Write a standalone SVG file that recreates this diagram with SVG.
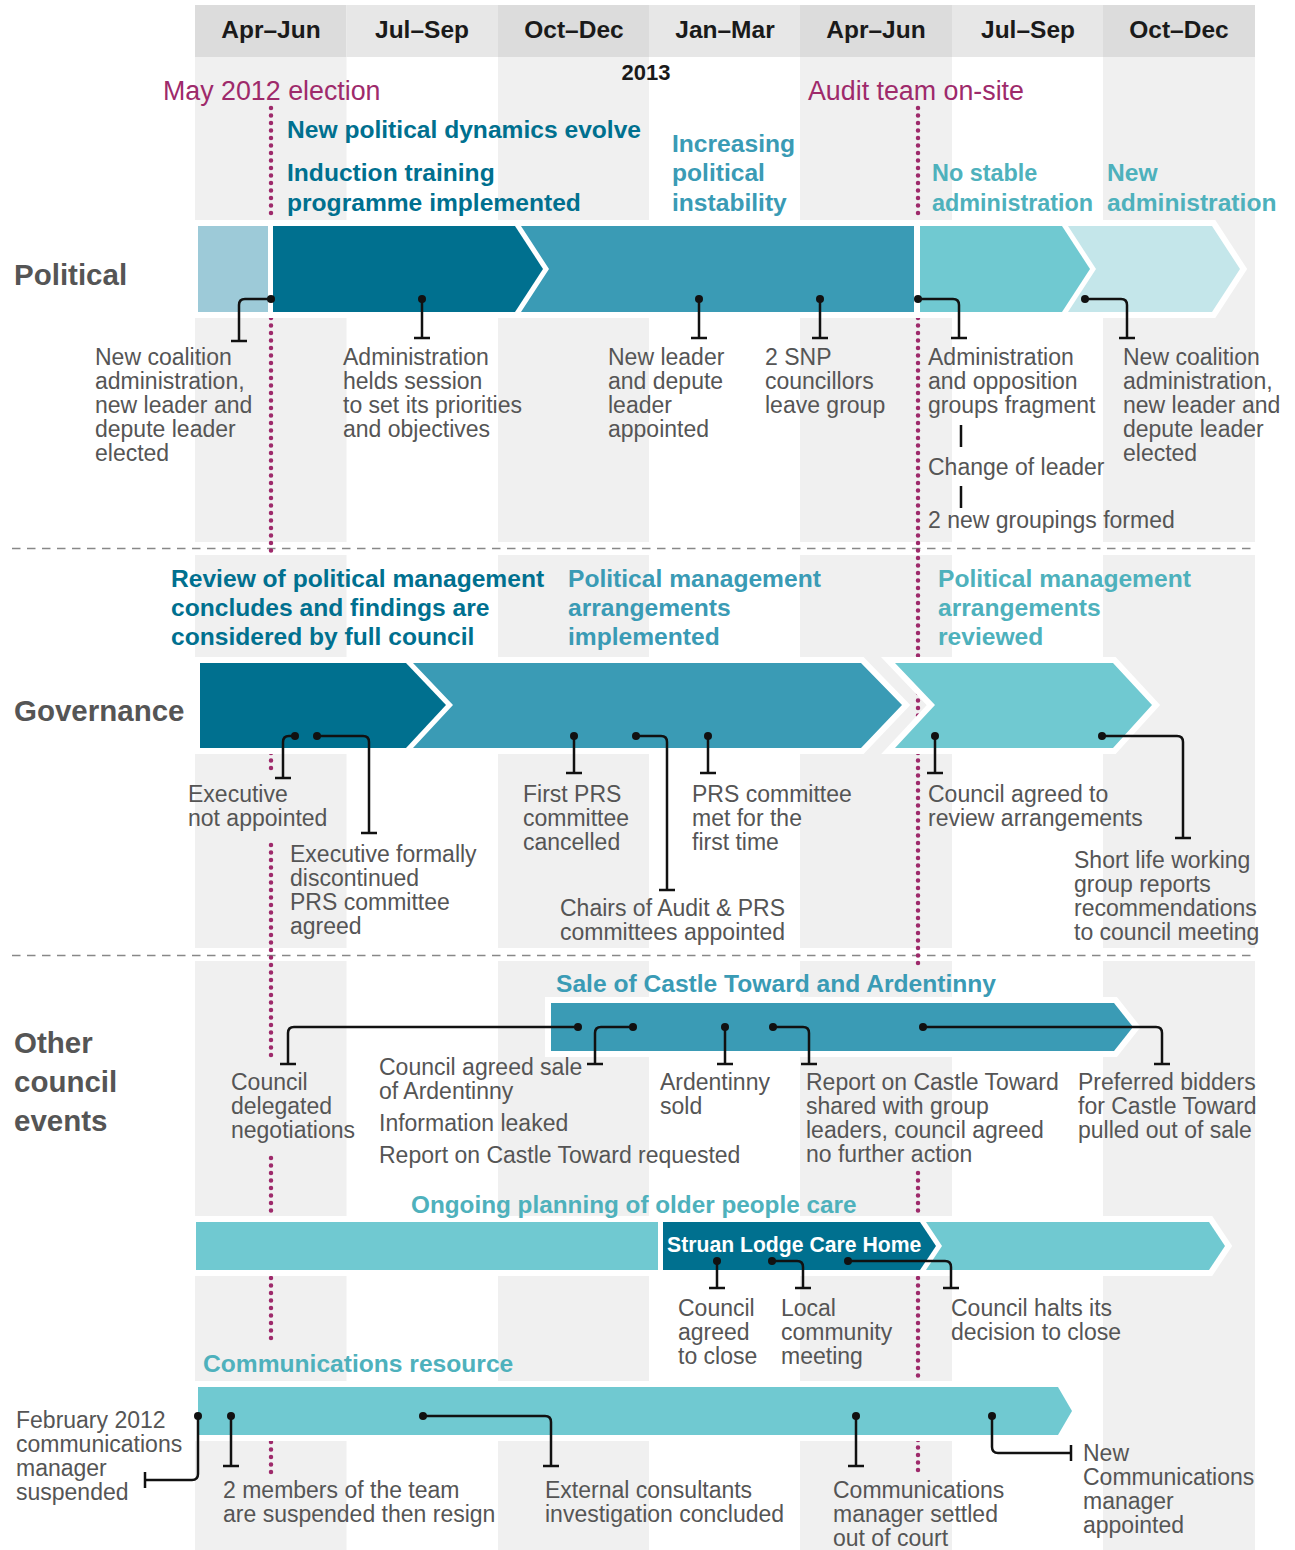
<svg xmlns="http://www.w3.org/2000/svg" width="1295" height="1550" viewBox="0 0 1295 1550">
<style>
text{font-family:"Liberation Sans",Arial,sans-serif}
.hdr{font-size:24.5px;font-weight:bold;fill:#1a1a1a;text-anchor:middle}
.row{font-size:29.5px;font-weight:bold;fill:#555}
.ev{font-size:26.8px;fill:#9e2a6b}
.h1{font-size:24.6px;font-weight:bold;fill:#00708f}
.h2{font-size:24.6px;font-weight:bold;fill:#3a9bb5}
.h3{font-size:24.6px;font-weight:bold;fill:#4eb1bc}
.t{font-size:23px;fill:#555}
.stripe{fill:#f0f0f0}
.halo{fill:#fff;stroke:#fff;stroke-width:12;stroke-linejoin:miter}
.dk{fill:#00708f}.md{fill:#3a9bb5}.lt{fill:#70c9d1}.vl{fill:#c4e6ea}.pl{fill:#9dcad8}
.conn{fill:none;stroke:#111;stroke-width:2.5}
.dot{fill:#111}
.dotted{stroke:#9e2a6b;stroke-width:4.5;stroke-linecap:round;stroke-dasharray:0 7.5;fill:none}
.sep{stroke:#888;stroke-width:1.5;stroke-dasharray:8.5 6.5}
</style>
<rect width="1295" height="1550" fill="#fff"/>
<g id="background">
<rect class="stripe" x="195" y="57" width="151.5" height="1493"/>
<rect class="stripe" x="498" y="57" width="151" height="1493"/>
<rect class="stripe" x="800" y="57" width="152" height="1493"/>
<rect class="stripe" x="1103" y="57" width="152" height="1493"/>
<rect x="195" y="542" width="1060" height="13" fill="#fff"/>
<rect x="195" y="948" width="1060" height="13" fill="#fff"/>
<line class="sep" x1="12" y1="548.5" x2="1255" y2="548.5"/>
<line class="sep" x1="12" y1="955.5" x2="1255" y2="955.5"/>
</g>
<g id="header">
<rect x="195" y="5" width="151.5" height="52" fill="#dcdcdc"/>
<rect x="346.5" y="5" width="151.5" height="52" fill="#e7e7e7"/>
<rect x="498" y="5" width="151" height="52" fill="#dcdcdc"/>
<rect x="649" y="5" width="151" height="52" fill="#e7e7e7"/>
<rect x="800" y="5" width="152" height="52" fill="#dcdcdc"/>
<rect x="952" y="5" width="151" height="52" fill="#e7e7e7"/>
<rect x="1103" y="5" width="152" height="52" fill="#dcdcdc"/>
<text class="hdr" x="271" y="38">Apr–Jun</text>
<text class="hdr" x="422" y="38">Jul–Sep</text>
<text class="hdr" x="574" y="38">Oct–Dec</text>
<text class="hdr" x="725" y="38">Jan–Mar</text>
<text class="hdr" x="876" y="38">Apr–Jun</text>
<text class="hdr" x="1028" y="38">Jul–Sep</text>
<text class="hdr" x="1179" y="38">Oct–Dec</text>
<text class="hdr" x="646" y="80" style="font-size:22px">2013</text>
</g>
<g id="markers">
<text class="ev" x="163" y="100">May 2012 election</text>
<text class="ev" x="808" y="100">Audit team on-site</text>
<path class="dotted" d="M271,108V218M271,318V553M271,753V770M271,845V1057M271,1158V1217M271,1278V1345M271,1442V1473"/>
<path class="dotted" d="M918,108V218M918,318V657M918,693V718M918,753V968M918,1173V1217M918,1278V1382M918,1440V1473"/>
</g>
<g id="row-labels">
<text class="row" x="14" y="285">Political</text>
<text class="row" x="14" y="721">Governance</text>
<text class="row" x="14" y="1053">Other</text>
<text class="row" x="14" y="1092">council</text>
<text class="row" x="14" y="1131">events</text>
</g>
<g id="political-bar">
<polygon class="halo" points="198,226 1212,226 1240,269 1212,312 198,312"/>
<polygon class="pl" points="198,226 268,226 268,312 198,312"/>
<polygon class="dk" points="273,226 515,226 543,269 515,312 273,312"/>
<polygon class="md" points="521,226 914,226 914,312 521,312 549,269"/>
<polygon class="lt" points="920,226 1062,226 1090,269 1062,312 920,312"/>
<polygon class="vl" points="1068,226 1212,226 1240,269 1212,312 1068,312 1096,269"/>
</g>
<g id="political-headlines">
<text class="h1" x="287" y="138">New political dynamics evolve</text>
<text class="h1" x="287" y="181">Induction training</text>
<text class="h1" x="287" y="211">programme implemented</text>
<text class="h2" x="672" y="152">Increasing</text>
<text class="h2" x="672" y="181">political</text>
<text class="h2" x="672" y="211">instability</text>
<text class="h3" x="932" y="181" style="font-size:23.4px">No stable</text>
<text class="h3" x="932" y="211" style="font-size:23.4px">administration</text>
<text class="h3" x="1107" y="181">New</text>
<text class="h3" x="1107" y="211">administration</text>
</g>
<g id="p1"><text class="t" x="95" y="365">New coalition</text><text class="t" x="95" y="389">administration,</text><text class="t" x="95" y="413">new leader and</text><text class="t" x="95" y="437">depute leader</text><text class="t" x="95" y="461">elected</text></g>
<g id="p2"><text class="t" x="343" y="365">Administration</text><text class="t" x="343" y="389">helds session</text><text class="t" x="343" y="413">to set its priorities</text><text class="t" x="343" y="437">and objectives</text></g>
<g id="p3"><text class="t" x="608" y="365">New leader</text><text class="t" x="608" y="389">and depute</text><text class="t" x="608" y="413">leader</text><text class="t" x="608" y="437">appointed</text></g>
<g id="p4"><text class="t" x="765" y="365">2 SNP</text><text class="t" x="765" y="389">councillors</text><text class="t" x="765" y="413">leave group</text></g>
<g id="p5"><text class="t" x="928" y="365">Administration</text><text class="t" x="928" y="389">and opposition</text><text class="t" x="928" y="413">groups fragment</text><text class="t" x="928" y="475">Change of leader</text><text class="t" x="928" y="528">2 new groupings formed</text></g>
<g id="p6"><text class="t" x="1123" y="365">New coalition</text><text class="t" x="1123" y="389">administration,</text><text class="t" x="1123" y="413">new leader and</text><text class="t" x="1123" y="437">depute leader</text><text class="t" x="1123" y="461">elected</text></g>
<g id="governance-bar">
<polygon class="halo" points="200,663 861,663 902,705 861,748 200,748"/>
<polygon class="halo" points="895,663 1113,663 1152,705 1113,748 895,748 935,705"/>
<polygon class="dk" points="200,663 406,663 446,705 406,748 200,748"/>
<polygon class="md" points="413,663 861,663 902,705 861,748 413,748 453,705"/>
<polygon class="lt" points="895,663 1113,663 1152,705 1113,748 895,748 935,705"/>
</g>
<g id="governance-headlines">
<text class="h1" x="171" y="587">Review of political management</text>
<text class="h1" x="171" y="616">concludes and findings are</text>
<text class="h1" x="171" y="645">considered by full council</text>
<text class="h2" x="568" y="587">Political management</text>
<text class="h2" x="568" y="616">arrangements</text>
<text class="h2" x="568" y="645">implemented</text>
<text class="h3" x="938" y="587">Political management</text>
<text class="h3" x="938" y="616">arrangements</text>
<text class="h3" x="938" y="645">reviewed</text>
</g>
<g id="g1"><text class="t" x="188" y="802">Executive</text><text class="t" x="188" y="826">not appointed</text></g>
<g id="g2"><text class="t" x="290" y="862">Executive formally</text><text class="t" x="290" y="886">discontinued</text><text class="t" x="290" y="910">PRS committee</text><text class="t" x="290" y="934">agreed</text></g>
<g id="g3"><text class="t" x="523" y="802">First PRS</text><text class="t" x="523" y="826">committee</text><text class="t" x="523" y="850">cancelled</text></g>
<g id="g4"><text class="t" x="560" y="916">Chairs of Audit &amp; PRS</text><text class="t" x="560" y="940">committees appointed</text></g>
<g id="g5"><text class="t" x="692" y="802">PRS committee</text><text class="t" x="692" y="826">met for the</text><text class="t" x="692" y="850">first time</text></g>
<g id="g6"><text class="t" x="928" y="802">Council agreed to</text><text class="t" x="928" y="826">review arrangements</text></g>
<g id="g7"><text class="t" x="1074" y="868">Short life working</text><text class="t" x="1074" y="892">group reports</text><text class="t" x="1074" y="916">recommendations</text><text class="t" x="1074" y="940">to council meeting</text></g>
<g id="sale-bar">
<polygon class="halo" points="551,1003 1114,1003 1133,1027 1114,1051 551,1051"/>
<polygon class="md" points="551,1003 1114,1003 1133,1027 1114,1051 551,1051"/>
<text class="h2" x="556" y="992">Sale of Castle Toward and Ardentinny</text>
</g>
<g id="o1"><text class="t" x="231" y="1090">Council</text><text class="t" x="231" y="1114">delegated</text><text class="t" x="231" y="1138">negotiations</text></g>
<g id="o2"><text class="t" x="379" y="1075">Council agreed sale</text><text class="t" x="379" y="1099">of Ardentinny</text><text class="t" x="379" y="1131">Information leaked</text><text class="t" x="379" y="1163">Report on Castle Toward requested</text></g>
<g id="o3"><text class="t" x="660" y="1090">Ardentinny</text><text class="t" x="660" y="1114">sold</text></g>
<g id="o4"><text class="t" x="806" y="1090">Report on Castle Toward</text><text class="t" x="806" y="1114">shared with group</text><text class="t" x="806" y="1138">leaders, council agreed</text><text class="t" x="806" y="1162">no further action</text></g>
<g id="o5"><text class="t" x="1078" y="1090">Preferred bidders</text><text class="t" x="1078" y="1114">for Castle Toward</text><text class="t" x="1078" y="1138">pulled out of sale</text></g>
<g id="care-bar">
<polygon class="halo" points="196,1222 1209,1222 1225,1246 1209,1270 196,1270"/>
<polygon class="lt" points="196,1222 1209,1222 1225,1246 1209,1270 196,1270"/>
<polygon class="halo" points="663,1222 920,1222 936,1246 920,1270 663,1270" style="stroke-width:10"/>
<polygon class="dk" points="663,1222 920,1222 936,1246 920,1270 663,1270"/>
<text x="667" y="1252" style="font-size:21.2px;font-weight:bold;fill:#fff">Struan Lodge Care Home</text>
<text class="h3" x="411" y="1213" style="font-size:24.3px">Ongoing planning of older people care</text>
</g>
<g id="c1"><text class="t" x="678" y="1316">Council</text><text class="t" x="678" y="1340">agreed</text><text class="t" x="678" y="1364">to close</text></g>
<g id="c2"><text class="t" x="781" y="1316">Local</text><text class="t" x="781" y="1340">community</text><text class="t" x="781" y="1364">meeting</text></g>
<g id="c3"><text class="t" x="951" y="1316">Council halts its</text><text class="t" x="951" y="1340">decision to close</text></g>
<g id="comms-bar">
<polygon class="halo" points="198,1387 1058,1387 1072,1411 1058,1435 198,1435"/>
<polygon class="lt" points="198,1387 1058,1387 1072,1411 1058,1435 198,1435"/>
<text class="h3" x="203" y="1372">Communications resource</text>
</g>
<g id="m1"><text class="t" x="16" y="1428">February 2012</text><text class="t" x="16" y="1452">communications</text><text class="t" x="16" y="1476">manager</text><text class="t" x="16" y="1500">suspended</text></g>
<g id="m2"><text class="t" x="223" y="1498">2 members of the team</text><text class="t" x="223" y="1522">are suspended then resign</text></g>
<g id="m3"><text class="t" x="545" y="1498">External consultants</text><text class="t" x="545" y="1522">investigation concluded</text></g>
<g id="m4"><text class="t" x="833" y="1498">Communications</text><text class="t" x="833" y="1522">manager settled</text><text class="t" x="833" y="1546">out of court</text></g>
<g id="m5"><text class="t" x="1083" y="1461">New</text><text class="t" x="1083" y="1485">Communications</text><text class="t" x="1083" y="1509">manager</text><text class="t" x="1083" y="1533">appointed</text></g>
<g id="connectors">
<path class="conn" d="M271,299H245Q239,299 239,305V341M231,341H247"/>
<path class="conn" d="M422,299V338M414,338H430"/>
<path class="conn" d="M699,299V338M691,338H707"/>
<path class="conn" d="M820,299V338M812,338H828"/>
<path class="conn" d="M918,299H953Q959,299 959,305V338M951,338H967"/>
<path class="conn" d="M1085,299H1121Q1127,299 1127,305V338M1119,338H1135"/>
<path class="conn" d="M961,425V447M961,486V508"/>
<path class="conn" d="M295,736H289Q283,736 283,742V778M275,778H291"/>
<path class="conn" d="M317,736H363Q369,736 369,742V833M361,833H377"/>
<path class="conn" d="M574,736V773M566,773H582"/>
<path class="conn" d="M636,736H661Q667,736 667,742V890M659,890H675"/>
<path class="conn" d="M708,736V773M700,773H716"/>
<path class="conn" d="M935,736V773M927,773H943"/>
<path class="conn" d="M1102,736H1177Q1183,736 1183,742V838M1175,838H1191"/>
<path class="conn" d="M578,1027H294Q288,1027 288,1033V1064M280,1064H296"/>
<path class="conn" d="M633,1027H601Q595,1027 595,1033V1064M587,1064H603"/>
<path class="conn" d="M725,1027V1064M717,1064H733"/>
<path class="conn" d="M773,1027H803Q809,1027 809,1033V1064M801,1064H817"/>
<path class="conn" d="M923,1027H1156Q1162,1027 1162,1033V1064M1154,1064H1170"/>
<path class="conn" d="M717,1261V1288M709,1288H725"/>
<path class="conn" d="M772,1261H797Q803,1261 803,1267V1288M795,1288H811"/>
<path class="conn" d="M848,1261H945Q951,1261 951,1267V1288M943,1288H959"/>
<path class="conn" d="M198,1416V1474Q198,1480 192,1480H145M145,1472V1488"/>
<path class="conn" d="M231,1416V1466M223,1466H239"/>
<path class="conn" d="M423,1416H545Q551,1416 551,1422V1466M543,1466H559"/>
<path class="conn" d="M856,1416V1466M848,1466H864"/>
<path class="conn" d="M992,1416V1447Q992,1453 998,1453H1071M1071,1445V1461"/>
<g class="dot">
<circle cx="271" cy="299" r="4"/><circle cx="422" cy="299" r="4"/><circle cx="699" cy="299" r="4"/><circle cx="820" cy="299" r="4"/><circle cx="918" cy="299" r="4"/><circle cx="1085" cy="299" r="4"/>
<circle cx="295" cy="736" r="4"/><circle cx="317" cy="736" r="4"/><circle cx="574" cy="736" r="4"/><circle cx="636" cy="736" r="4"/><circle cx="708" cy="736" r="4"/><circle cx="935" cy="736" r="4"/><circle cx="1102" cy="736" r="4"/>
<circle cx="578" cy="1027" r="4"/><circle cx="633" cy="1027" r="4"/><circle cx="725" cy="1027" r="4"/><circle cx="773" cy="1027" r="4"/><circle cx="923" cy="1027" r="4"/>
<circle cx="717" cy="1261" r="4"/><circle cx="772" cy="1261" r="4"/><circle cx="848" cy="1261" r="4"/>
<circle cx="198" cy="1416" r="4"/><circle cx="231" cy="1416" r="4"/><circle cx="423" cy="1416" r="4"/><circle cx="856" cy="1416" r="4"/><circle cx="992" cy="1416" r="4"/>
</g>
</g>
</svg>
